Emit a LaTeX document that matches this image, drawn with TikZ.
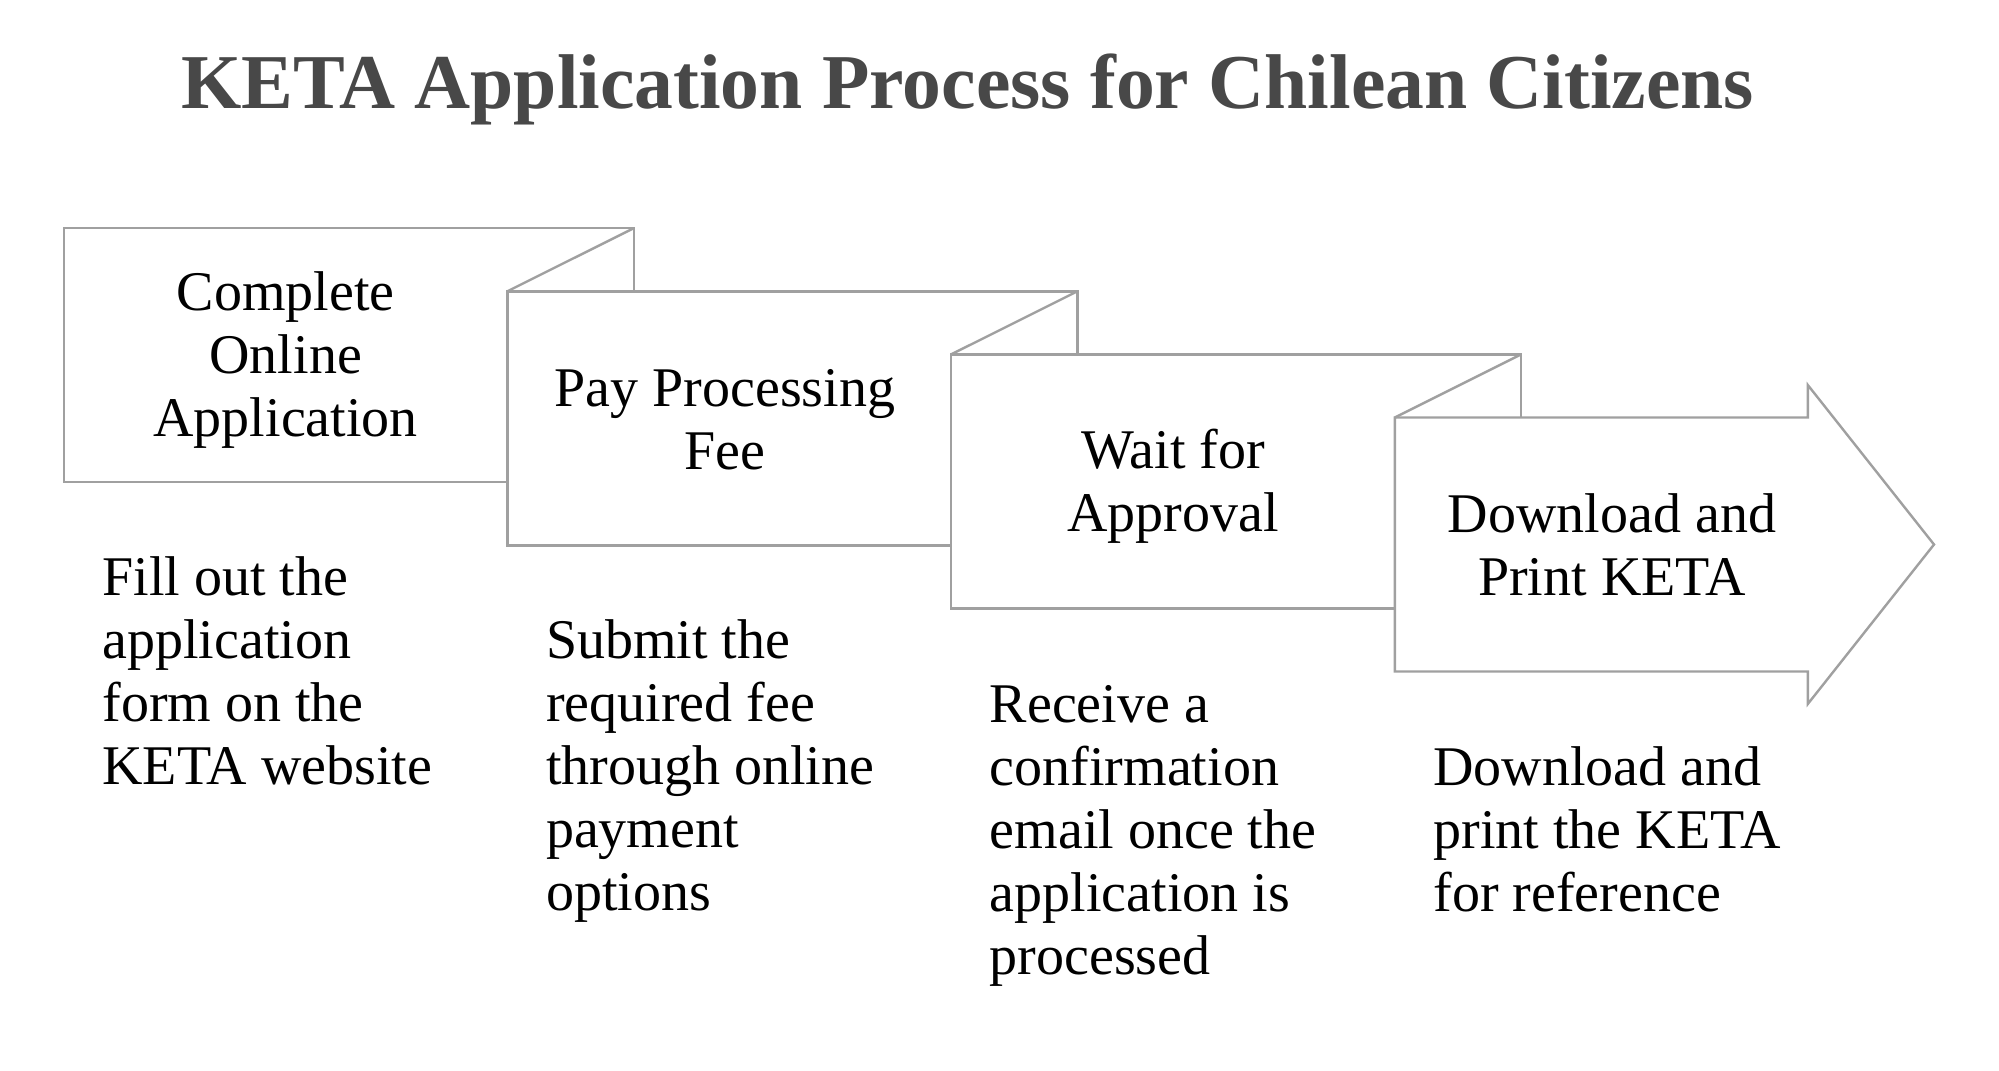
\documentclass[tikz,border=0pt]{standalone}
\usepackage{fontspec}
\setmainfont{Liberation Serif}
\definecolor{linegray}{RGB}{160,160,160}
\definecolor{titlegray}{RGB}{72,72,72}
\begin{document}
\begin{tikzpicture}[x=0.5pt,y=-0.5pt,
  panel/.style={draw=linegray, fill=white, line width=1.2pt, line join=miter},
  fold/.style={draw=linegray, line width=1.2pt},
  lbl/.style={align=center, inner sep=0pt, font=\fontsize{28}{31.5}\selectfont},
  desc/.style={align=left, anchor=north west, inner sep=0pt, font=\fontsize{28}{31.5}\selectfont},
]
\useasboundingbox (0,0) rectangle (1999,1071);

\node[anchor=base, inner sep=0pt, font=\fontsize{38.8}{46}\selectfont\bfseries, text=titlegray] (title) at (967.7,108) {KETA Application Process for Chilean Citizens};

% step panels
\draw[panel] (63.7,228.2) rectangle (633.7,482.2);
\draw[panel] (507.4,291.3) rectangle (1077.4,545.3);
\draw[fold] (507.4,291.3) -- (633.7,228.2);
\draw[panel] (951.1,354.4) rectangle (1521.1,608.4);
\draw[fold] (951.1,354.4) -- (1077.4,291.3);
\draw[panel] (1394.8,417.5) -- (1807.8,417.5) -- (1807.8,385) -- (1934,544.5) -- (1807.8,704) -- (1807.8,671.5) -- (1394.8,671.5) -- cycle;
\draw[fold] (1394.8,417.5) -- (1521.1,354.4);

% panel labels
\node[lbl] (l1) at (285.7,360.2) {Complete\\Online\\Application};
\node[lbl] (l2) at (725,419.3) {Pay Processing\\Fee};
\node[lbl] (l3) at (1173.1,486.4) {Wait for\\Approval};
\node[lbl] (l4) at (1612,544.5) {Download and\\Print KETA};

% descriptions
\node[desc] (d1) at (102,551.3) {\strut Fill out the\\application\\form on the\\KETA website};
\node[desc] (d2) at (545.7,614.4) {\strut Submit the\\required fee\\through online\\payment\\options};
\node[desc] (d3) at (989.4,677.5) {\strut Receive a\\confirmation\\email once the\\application is\\processed};
\node[desc] (d4) at (1433.1,740.6) {\strut Download and\\print the KETA\\for reference};
\end{tikzpicture}
\end{document}
